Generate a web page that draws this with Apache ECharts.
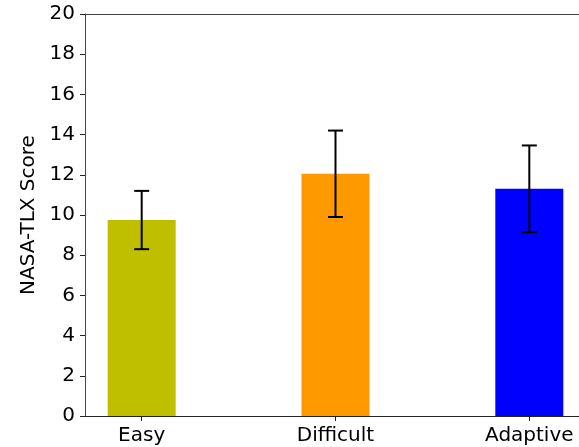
<!DOCTYPE html>
<html>
<head>
<meta charset="utf-8">
<script src="https://cdn.jsdelivr.net/npm/echarts@6/dist/echarts.min.js"></script>
<style>html,body{margin:0;padding:0;background:#fff;overflow:hidden;width:579px;height:447px;}#c{width:620px;height:447px;}</style>
</head>
<body>
<div id="c"></div>
<script>
const categories = ['Easy', 'Difficult', 'Adaptive'];
const means = [9.75, 12.05, 11.3];
const errors = [1.45, 2.15, 2.16];
const colors = ['#bfbf00', '#ff9900', '#0000ff'];
const yTicks = [0, 2, 4, 6, 8, 10, 12, 14, 16, 18, 20];

const chart = echarts.init(document.getElementById('c'), null, {renderer: 'canvas'});
const font = 'DejaVu Sans';
const pos = categories.map((_, i) => i);

chart.setOption({
  animation: false,
  grid: {left: 85, top: 14, width: 501, height: 402, outerBoundsMode: 'none', containLabel: false, show: false},
  xAxis: [{
    type: 'value', min: -0.2925, max: 2.2925,
    splitLine: {show: false},
    axisLine: {show: true, onZero: false, lineStyle: {color: '#222', width: 1}},
    axisTick: {show: true, customValues: pos, length: 5, lineStyle: {color: '#222'}},
    axisLabel: {customValues: pos, formatter: v => categories[Math.round(v)], color: '#000', fontFamily: font, fontSize: 20, margin: 10}
  }, {
    type: 'value', position: 'top', min: -0.2925, max: 2.2925,
    splitLine: {show: false},
    axisLine: {show: true, onZero: false, lineStyle: {color: '#444', width: 1}},
    axisTick: {show: false}, axisLabel: {show: false}
  }],
  yAxis: {
    type: 'value', min: 0, max: 20, interval: 2,
    name: 'NASA-TLX Score', nameLocation: 'middle', nameGap: 46,
    nameTextStyle: {color: '#000', fontFamily: font, fontSize: 20},
    splitLine: {show: false},
    axisLine: {show: true, onZero: false, lineStyle: {color: '#444', width: 1}},
    axisTick: {show: true, length: 5, lineStyle: {color: '#222'}},
    axisLabel: {color: '#000', fontFamily: font, fontSize: 20, margin: 10, formatter: v => String(v)}
  },
  series: [
    {
      type: 'bar', barWidth: 68,
      data: means.map((m, i) => ({value: [i, m], itemStyle: {color: colors[i]}}))
    },
    {
      type: 'custom',
      data: means.map((m, i) => [i, m - errors[i], m + errors[i]]),
      z: 10,
      renderItem: function (params, api) {
        const lo = api.coord([api.value(0), api.value(1)]);
        const hi = api.coord([api.value(0), api.value(2)]);
        const cap = 7.5;
        const st = {stroke: '#000', lineWidth: 2};
        return {type: 'group', children: [
          {type: 'line', shape: {x1: lo[0], y1: lo[1], x2: hi[0], y2: hi[1]}, style: st},
          {type: 'line', shape: {x1: lo[0] - cap, y1: lo[1], x2: lo[0] + cap, y2: lo[1]}, style: st},
          {type: 'line', shape: {x1: hi[0] - cap, y1: hi[1], x2: hi[0] + cap, y2: hi[1]}, style: st}
        ]};
      }
    }
  ]
});
</script>
</body>
</html>
